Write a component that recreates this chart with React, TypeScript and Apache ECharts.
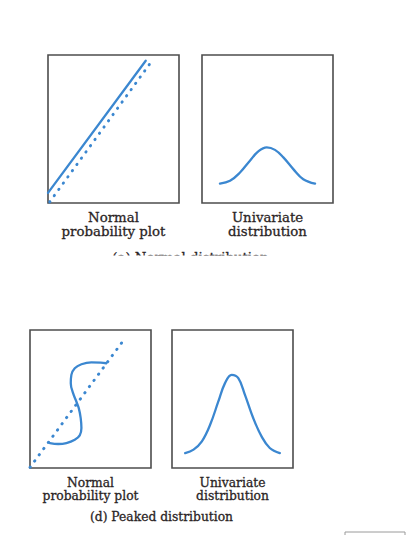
import React, { useEffect, useRef } from "react";
import * as echarts from "echarts";

// Panel (a) Normal distribution — normal probability plot (0..100 box units)
const normalPlotSolid: number[][] = [[0, 6.8], [74.6, 96.1]];
const normalPlotRef: number[][] = [[1.3, 0.7], [77.6, 93.9]];
// Panel (a) univariate distribution
const normalDensity: number[][] = [
  [13.7, 13.1], [21.4, 15.0], [29.0, 20.6], [36.6, 28.6], [43.0, 34.9], [49.4, 37.6],
  [55.7, 35.9], [62.1, 30.8], [69.7, 22.9], [77.3, 16.1], [86.3, 13.1],
];
// Panel (d) Peaked distribution — normal probability plot
const peakedPlotCurve: number[][] = [
  [63.0, 75.9], [58.4, 76.4], [50.7, 76.6], [42.5, 75.2], [37.0, 72.3], [34.2, 67.5],
  [33.7, 61.5], [35.6, 54.2], [38.3, 48.2], [40.3, 43.4], [41.9, 36.2], [42.5, 28.9],
  [41.1, 23.6], [37.0, 20.5], [30.1, 18.1], [23.3, 17.4], [16.4, 18.1],
];
const peakedPlotRef: number[][] = [[0, 0.5], [78.1, 93.5]];
// Panel (d) univariate distribution
const peakedDensity: number[][] = [
  [10.9, 10.8], [17.8, 13.3], [24.7, 19.3], [31.5, 31.3], [38.3, 48.2], [43.8, 61.5],
  [49.3, 67.5], [54.8, 65.1], [60.3, 53.0], [67.1, 36.2], [74.0, 22.9], [80.8, 14.5], [89.1, 10.8],
];

const panelLabelsTop = ["Normal", "probability plot"];
const panelLabelsRight = ["Univariate", "distribution"];
const captionA = "(a) Normal distribution";
const captionD = "(d) Peaked distribution";

const BLUE = "#3b87d0";
const TEXT = "#2a2424";
const FONT = "'DejaVu Serif', serif";

export default function App() {
  const ref = useRef<HTMLDivElement>(null);
  useEffect(() => {
    if (!ref.current) return;
    const chart = echarts.init(ref.current, undefined, { renderer: "svg" });
    const grids = [
      { left: 48, top: 55, width: 131, height: 148 },
      { left: 202, top: 55, width: 131, height: 148 },
      { left: 30, top: 330, width: 121, height: 138 },
      { left: 172, top: 330, width: 121, height: 138 },
    ];
    const axis = (i: number) => ({
      type: "value" as const, gridIndex: i, min: 0, max: 100, show: false,
    });
    const solid = (i: number, data: number[][], smooth: number | boolean) => ({
      type: "line" as const, xAxisIndex: i, yAxisIndex: i, data, smooth,
      showSymbol: false, silent: true,
      lineStyle: { color: BLUE, width: 2.3, cap: "round" as const, join: "round" as const },
    });
    const dotted = (i: number, data: number[][]) => ({
      type: "line" as const, xAxisIndex: i, yAxisIndex: i, data,
      showSymbol: false, silent: true,
      lineStyle: { color: BLUE, width: 2.9, type: [0.4, 7.3], cap: "round" as const },
    });
    const txt = (x: number, y: number, s: string, size: number) => ({
      type: "text" as const, x, y, z: 10,
      style: {
        text: s, fill: TEXT, stroke: TEXT, lineWidth: 0.3,
        font: `${size}px ${FONT}`, align: "center", verticalAlign: "middle",
      },
    });
    chart.setOption({
      animation: false,
      backgroundColor: "#ffffff",
      grid: grids.map((g) => ({ ...g, show: true, borderColor: "#4d4d4d", borderWidth: 1.6, backgroundColor: "transparent" })),
      xAxis: [0, 1, 2, 3].map(axis),
      yAxis: [0, 1, 2, 3].map(axis),
      series: [
        solid(0, normalPlotSolid, false),
        dotted(0, normalPlotRef),
        solid(1, normalDensity, 0.4),
        solid(2, peakedPlotCurve, 0.4),
        dotted(2, peakedPlotRef),
        solid(3, peakedDensity, 0.4),
      ],
      graphic: [
        txt(113.5, 217, panelLabelsTop[0], 13.3),
        txt(113.5, 231.5, panelLabelsTop[1], 13.3),
        txt(267.5, 217, panelLabelsRight[0], 13.3),
        txt(267.5, 231.5, panelLabelsRight[1], 13.3),
        txt(190.5, 257, captionA, 13.3),
        { type: "rect", z: 20, shape: { x: 0, y: 255.5, width: 414, height: 30 }, style: { fill: "#ffffff" } },
        txt(90.5, 482.5, panelLabelsTop[0], 12.3),
        txt(90.5, 496, panelLabelsTop[1], 12.3),
        txt(232.5, 482.5, panelLabelsRight[0], 12.3),
        txt(232.5, 496, panelLabelsRight[1], 12.3),
        txt(161.5, 517, captionD, 12.3),
        { type: "rect", z: 5, shape: { x: 345, y: 532, width: 60, height: 10 }, style: { fill: "none", stroke: "#9a9a9a", lineWidth: 1 } },
      ],
    });
    return () => chart.dispose();
  }, []);
  return <div ref={ref} style={{ position: "fixed", left: 0, top: 0, width: 414, height: 535 }} />;
}
